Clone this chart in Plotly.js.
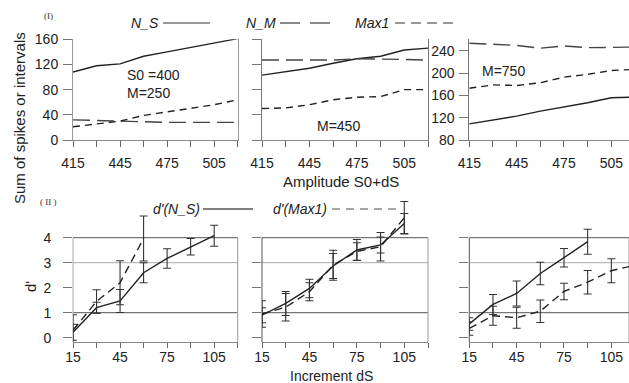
<!DOCTYPE html>
<html>
<head>
<meta charset="utf-8">
<script src="https://cdn.plot.ly/plotly-3.0.1.min.js"></script>
<style>html,body{margin:0;padding:0;background:#fff;}#chart{width:629px;height:383px;}</style>
</head>
<body>
<div id="chart"></div>
<script>
// ---------- data ----------
const amplitude = [415, 430, 445, 460, 475, 490, 505, 520];
const ampTickVals = [415, 430, 445, 460, 475, 490, 505, 520];
const ampTickText = ['415', '', '445', '', '475', '', '505', ''];

// panel (I) S0=400, M=250
const NS_M250 = [108, 118, 121, 133, 140, 147, 153, 161];
const NM_M250 = [32, 31, 30, 28, 28, 28, 28, 28];
const MAX1_M250 = [21, 25, 30, 39, 45, 50, 56, 64];
// M=450
const NS_M450 = [103, 108, 114, 122, 129, 133, 143, 146];
const NM_M450 = [127, 127, 127, 127, 129, 129, 128, 127];
const MAX1_M450 = [50, 51, 56, 64, 68, 69, 80, 80];
// M=750
const NS_M750 = [109, 116, 123, 132, 139, 147, 156, 157];
const NM_M750 = [254, 252, 250, 245, 249, 246, 247, 247];
const MAX1_M750 = [173, 179, 178, 183, 193, 198, 205, 207];

const incTickVals = [15, 30, 45, 60, 75, 90, 105, 120];
const incTickText = ['15', '', '45', '', '75', '', '105', ''];

// panel (II) d'
const inc_NS1 = [15, 30, 45, 60, 75, 90, 105];
const dNS_1 = [0.22, 1.2, 1.47, 2.6, 3.17, 3.64, 4.08];
const eNS_1 = [0.32, 0.22, 0.46, 0.4, 0.39, 0.33, 0.42];
const inc_MX1 = [15, 30, 45, 60];
const dMX_1 = [0.3, 1.45, 2.2, 3.97];
const eMX_1 = [0.62, 0.47, 0.88, 0.9];

const inc_NS2 = [15, 30, 45, 60, 75, 90, 105];
const dNS_2 = [0.9, 1.37, 1.97, 2.87, 3.51, 3.71, 4.57];
const eNS_2 = [0.3, 0.48, 0.37, 0.5, 0.42, 0.32, 0.4];
const inc_MX2 = [15, 30, 45, 60, 75, 90, 105];
const dMX_2 = [0.95, 1.22, 1.84, 2.9, 3.45, 3.64, 4.8];
const eMX_2 = [0.53, 0.55, 0.36, 0.6, 0.35, 0.57, 0.65];

const inc_NS3 = [15, 30, 45, 60, 75, 90];
const dNS_3 = [0.55, 1.33, 1.77, 2.57, 3.2, 3.84];
const eNS_3 = [0.25, 0.4, 0.5, 0.45, 0.37, 0.5];
const inc_MX3 = [15, 30, 45, 60, 75, 90, 105, 120];
const dMX_3 = [0.37, 0.88, 0.8, 1.06, 1.85, 2.22, 2.68, 2.9];
const eMX_3 = [0.27, 0.38, 0.42, 0.45, 0.33, 0.47, 0.48, 0.45];

// ---------- helpers ----------
const W = 629, H = 383;
const px = x => x / W;
const py = y => 1 - y / H;
const FONT = 'Liberation Sans, Arial, sans-serif';

const topDomY = [py(140), py(39.3)];
const botDomY = [py(342), py(197.7)];
const domX = [[px(73), px(237.7)], [px(262), px(428)], [px(469.3), 1]];

const traces = [];
function line(x, y, xa, ya, color, dash, width) {
  traces.push({x: x, y: y, xaxis: xa, yaxis: ya, type: 'scatter', mode: 'lines',
    line: {color: color, width: width || 1.4, dash: dash || 'solid'}, hoverinfo: 'skip'});
}
function errLine(x, y, e, xa, ya, dash) {
  traces.push({x: x, y: y, xaxis: xa, yaxis: ya, type: 'scatter', mode: 'lines',
    line: {color: '#222', width: 1.4, dash: dash || 'solid'},
    error_y: {type: 'data', array: e, visible: true, color: '#333', thickness: 1.1, width: 4},
    hoverinfo: 'skip'});
}

const LONG = '17px,7px';
const SHORT = '7px,5px';
// top
line(amplitude, NS_M250, 'x', 'y', '#222', 'solid');
line(amplitude, NM_M250, 'x', 'y', '#444', LONG);
line(amplitude, MAX1_M250, 'x', 'y', '#222', SHORT);
line(amplitude, NS_M450, 'x2', 'y2', '#222', 'solid');
line(amplitude, NM_M450, 'x2', 'y2', '#444', LONG);
line(amplitude, MAX1_M450, 'x2', 'y2', '#222', SHORT);
line(amplitude, NS_M750, 'x3', 'y3', '#222', 'solid');
line(amplitude, NM_M750, 'x3', 'y3', '#444', LONG);
line(amplitude, MAX1_M750, 'x3', 'y3', '#222', SHORT);
// bottom
const DD = '8px,5px';
errLine(inc_NS1, dNS_1, eNS_1, 'x4', 'y4');
errLine(inc_MX1, dMX_1, eMX_1, 'x4', 'y4', DD);
errLine(inc_NS2, dNS_2, eNS_2, 'x5', 'y5');
errLine(inc_MX2, dMX_2, eMX_2, 'x5', 'y5', DD);
errLine(inc_NS3, dNS_3, eNS_3, 'x6', 'y6');
errLine(inc_MX3, dMX_3, eMX_3, 'x6', 'y6', DD);

const tickFont = {family: FONT, size: 14, color: '#222'};
function xAxis(dom, range, vals, text, anchor, standoff, tl) {
  return {domain: dom, range: range, anchor: anchor, tickmode: 'array', tickvals: vals, ticktext: text,
    ticks: 'outside', ticklen: tl, tickcolor: '#666', showline: true, linecolor: '#888', linewidth: 1,
    showgrid: false, zeroline: false, tickfont: tickFont, ticklabelstandoff: standoff, fixedrange: true};
}
function yAxis(dom, range, vals, showLabels, anchor, mirror, lc) {
  return {domain: dom, range: range, anchor: anchor, tickmode: 'array', tickvals: vals,
    showticklabels: showLabels, ticks: 'outside', ticklen: 9, tickcolor: '#777',
    showline: mirror, mirror: mirror, linecolor: lc || '#888', linewidth: 1,
    showgrid: false, zeroline: false, tickfont: tickFont, ticklabelstandoff: 2, fixedrange: true};
}

const layout = {
  width: W, height: H, margin: {l: 0, r: 0, t: 0, b: 0},
  paper_bgcolor: '#fff', plot_bgcolor: 'rgba(0,0,0,0)', showlegend: false,
  font: {family: FONT, color: '#222'},
  xaxis: xAxis(domX[0], [415, 520], ampTickVals, ampTickText, 'y', 4, 6),
  xaxis2: xAxis(domX[1], [415, 520], ampTickVals, ampTickText, 'y2', 4, 6),
  xaxis3: xAxis(domX[2], [415, 516.2], ampTickVals, ampTickText, 'y3', 4, 6),
  xaxis4: xAxis(domX[0], [15, 120], incTickVals, incTickText, 'y4', -3, 5),
  xaxis5: xAxis(domX[1], [15, 120], incTickVals, incTickText, 'y5', -3, 5),
  xaxis6: xAxis(domX[2], [15, 116.2], incTickVals, incTickText, 'y6', -3, 5),
  yaxis: yAxis(topDomY, [0, 160], [0, 40, 80, 120, 160], true, 'x', true, '#999'),
  yaxis2: yAxis(topDomY, [0, 160], [0, 40, 80, 120, 160], false, 'x2', true, '#777'),
  yaxis3: yAxis(topDomY, [80, 261], [80, 120, 160, 200, 240], true, 'x3', true, '#777'),
  yaxis4: yAxis(botDomY, [-0.172, 5.6], [0, 1, 2, 3, 4], true, 'x4', false),
  yaxis5: yAxis(botDomY, [-0.172, 5.6], [0, 1, 2, 3, 4], false, 'x5', false),
  yaxis6: yAxis(botDomY, [-0.172, 5.6], [0, 1, 2, 3, 4], false, 'x6', false),
  shapes: [], annotations: []
};
layout.yaxis4.ticklabelstandoff = 9;

// bottom panel frames and gridlines
[['x4', 'y4', '#aaa'], ['x5', 'y5', '#555'], ['x6', 'y6', '#555']].forEach(([xa, ya, lc]) => {
  [[1, '#555'], [3, '#aaa'], [4, '#555']].forEach(([v, c]) => {
    layout.shapes.push({type: 'line', xref: xa + ' domain', yref: ya, x0: 0, x1: 1, y0: v, y1: v,
      line: {color: c, width: 1}, layer: 'below'});
  });
  layout.shapes.push({type: 'line', xref: xa + ' domain', yref: ya, x0: 0, x1: 0, y0: -0.172, y1: 4,
    line: {color: lc, width: 1}, layer: 'below'});
  layout.shapes.push({type: 'line', xref: xa + ' domain', yref: ya, x0: 1, x1: 1, y0: -0.172, y1: 4,
    line: {color: '#999', width: 1}, layer: 'below'});
});

// legend samples
function seg(x0, x1, y, color, dash, w) {
  layout.shapes.push({type: 'line', xref: 'paper', yref: 'paper', x0: px(x0), x1: px(x1), y0: py(y), y1: py(y),
    line: {color: color, width: w || 1.4, dash: dash}});
}
function txt(x, y, t, opts) {
  layout.annotations.push(Object.assign({xref: 'paper', yref: 'paper', x: px(x), y: py(y), text: t,
    showarrow: false, xanchor: 'left', yanchor: 'middle',
    font: {family: FONT, size: 14, color: '#222'}}, opts || {}));
}
txt(129, 23, '<i>N_S</i>');
seg(163, 210, 23, '#777', 'solid');
txt(244, 23, '<i>N_M</i>');
seg(280, 334, 23, '#666', '20px,10px');
txt(353, 23, '<i>Max1</i>');
seg(395, 454, 23, '#777', '10px,6px');

txt(151, 209, "<i>d'(N_S)</i>");
seg(203, 253, 209, '#555', 'solid');
txt(271, 209, "<i>d'(Max1)</i>");
seg(332, 401, 209, '#888', '8px,6px');

// panel labels
txt(42, 16, '(I)', {font: {family: 'Liberation Serif, DejaVu Serif, serif', size: 9, color: '#333'}});
txt(38, 202, '( II )', {font: {family: 'Liberation Serif, DejaVu Serif, serif', size: 9, color: '#333'}});

// inner annotations
txt(125, 75, 'S0 =400');
txt(125, 93, 'M=250');
txt(315, 126, 'M=450');
txt(480, 71, 'M=750');

// axis titles
txt(341, 182, 'Amplitude S0+dS', {xanchor: 'center', font: {family: FONT, size: 15, color: '#222'}});
txt(331, 376, 'Increment dS', {xanchor: 'center', yanchor: 'middle', font: {family: FONT, size: 14, color: '#222'}});
txt(19, 118, 'Sum of spikes or intervals', {xanchor: 'center', textangle: -90, font: {family: FONT, size: 15, color: '#222'}});
txt(30, 287, "d'", {xanchor: 'center', textangle: -90, font: {family: FONT, size: 15, color: '#222'}});

Plotly.newPlot('chart', traces, layout, {staticPlot: true, displayModeBar: false});
</script>
</body>
</html>
